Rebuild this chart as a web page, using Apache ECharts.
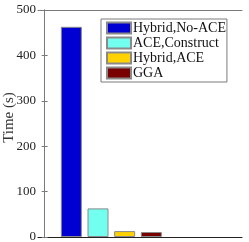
<!DOCTYPE html>
<html><head><meta charset="utf-8">
<script src="https://cdn.jsdelivr.net/npm/echarts@6/dist/echarts.min.js"></script>
<style>html,body{margin:0;padding:0;background:#fff}#c{width:249px;height:242px}</style>
</head><body><div id="c"></div>
<script>
const methods = ['Hybrid,No-ACE', 'ACE,Construct', 'Hybrid,ACE', 'GGA'];
const positions = [1, 2, 3, 4];
const times = [463, 63, 13, 11];
const colors = ['#0000d2', '#72fff0', '#ffd200', '#780000'];
const yTicks = [0, 100, 200, 300, 400, 500];

const serif = 'Liberation Serif';
const chart = echarts.init(document.getElementById('c'), null, {renderer: 'canvas'});
const series = methods.map((m, i) => ({
  name: m,
  type: 'bar',
  xAxisIndex: 0,
  yAxisIndex: 0,
  barWidth: 21,
  barGap: '-100%',
  data: [[positions[i], times[i]]],
  itemStyle: {color: colors[i], borderColor: '#8a8a8a', borderWidth: 1},
  emphasis: {disabled: true},
  animation: false
}));
chart.setOption({
  animation: false,
  grid: {left: 38, right: 7, top: 10, bottom: 5, containLabel: false, outerBoundsMode: 'none'},
  legend: {
    orient: 'vertical', left: 101, top: 19,
    data: methods,
    icon: 'rect',
    itemWidth: 24, itemHeight: 11, itemGap: 1,
    padding: [2, 1, 2, 5],
    borderColor: '#7a7a7a', borderWidth: 1, backgroundColor: '#fff',
    textStyle: {fontFamily: serif, fontSize: 14, color: '#111', padding: [0,0,0,-3]},
    selectedMode: false
  },
  xAxis: [{
    type: 'value', min: -0.25, max: 7.4, position: 'bottom',
    axisLine: {show: true, onZero: false, lineStyle: {color: '#222', width: 1}},
    axisTick: {show: false}, axisLabel: {show: false}, splitLine: {show: false}
  }, {
    type: 'value', min: -0.25, max: 7.4, position: 'top',
    axisLine: {show: true, onZero: false, lineStyle: {color: '#7a7a7a', width: 1}},
    axisTick: {show: false}, axisLabel: {show: false}, splitLine: {show: false}
  }],
  yAxis: [{
    type: 'value', min: yTicks[0], max: yTicks[yTicks.length - 1], interval: 100,
    position: 'left',
    name: 'Time (s)', nameLocation: 'middle', nameGap: 21, nameMoveOverlap: false,
    nameTextStyle: {fontFamily: serif, fontSize: 15, color: '#333', padding: [0, 0, 0, 12]},
    axisLine: {show: true, lineStyle: {color: '#7a7a7a'}},
    axisTick: {show: true, inside: true, length: 3, lineStyle: {color: '#7a7a7a'}},
    axisLabel: {fontFamily: serif, fontSize: 13, color: '#222', margin: 2},
    splitLine: {show: false}
  }, {
    type: 'value', min: yTicks[0], max: yTicks[yTicks.length - 1], interval: 100,
    position: 'right',
    axisLine: {show: true, lineStyle: {color: '#7a7a7a'}},
    axisTick: {show: true, inside: true, length: 3, lineStyle: {color: '#7a7a7a'}},
    axisLabel: {show: false}, splitLine: {show: false}
  }],
  series: series
});
</script></body></html>
